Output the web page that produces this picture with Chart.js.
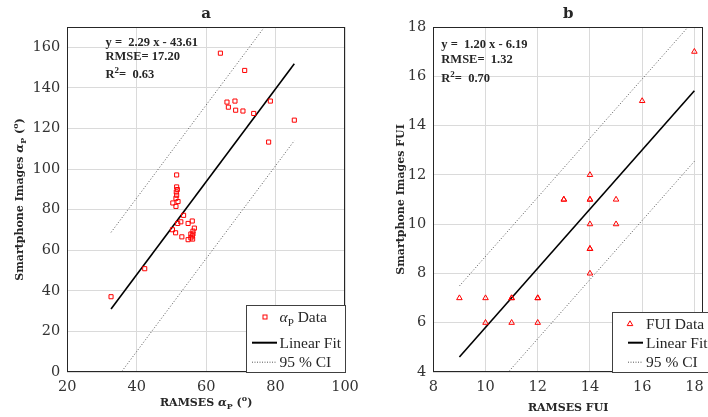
<!DOCTYPE html>
<html><head><meta charset="utf-8">
<script src="https://cdn.jsdelivr.net/npm/chart.js@4.4.1/dist/chart.umd.min.js"></script>
<style>
html,body{margin:0;padding:0;background:#fff;width:708px;height:417px;overflow:hidden;}
#wrapA{position:absolute;left:0;top:0;width:362px;height:417px;}
#wrapB{position:absolute;left:354px;top:0;width:354px;height:417px;}
canvas{display:block;}
</style></head><body>
<div id="wrapA"><canvas id="cA" width="362" height="417"></canvas></div>
<div id="wrapB"><canvas id="cB" width="354" height="417"></canvas></div>
<script>
// ---------- Panel a: alpha_P ----------
const ramsesAlpha = [32.6, 42.3, 51.5, 51.5, 51.7, 51.4, 51.5, 51.3, 50.4, 51.9, 51.3, 53.5, 52.7, 51.8, 56.0, 54.8,
  50.3, 51.2, 53.0, 56.6, 56.2, 55.6, 56.0, 55.6, 54.8, 56.1, 56.2,
  64.1, 71.1, 66.0, 68.3, 66.4, 68.5, 70.6, 73.7, 78.5, 85.4, 78.0];
const phoneAlpha = [37.1, 50.9, 97.1, 91.2, 89.9, 88.7, 87.1, 85.6, 83.3, 84.0, 81.6, 77.2, 74.0, 73.2, 74.4, 73.2,
  70.1, 68.6, 66.6, 70.9, 69.4, 68.0, 67.0, 66.1, 65.2, 65.5, 68.0,
  157.1, 148.6, 133.0, 133.5, 130.5, 129.0, 128.6, 127.4, 133.5, 124.1, 113.3];
const fitAX = [32.6, 85.4];
const fitAY = [31.0, 151.9];
const ciUpperAY = [68.8, 189.7];
const ciLowerAY = [-6.8, 114.0];
const xTicksA = [20, 40, 60, 80, 100];
const yTicksA = [0, 20, 40, 60, 80, 100, 120, 140, 160];
const statsA = ["y =  2.29 x - 43.61", "RMSE= 17.20", "=  0.63"];

// ---------- Panel b: FUI ----------
const ramsesFUI = [9, 10, 10, 11, 11, 11, 12, 12, 12, 13, 13, 14, 14, 14, 14, 14, 14, 14, 15, 15, 16, 18];
const phoneFUI  = [7, 7, 6, 7, 7, 6, 7, 7, 6, 11, 11, 12, 11, 11, 10, 9, 9, 8, 11, 10, 15, 17];
const fitBX = [9, 18];
const fitBY = [4.61, 15.41];
const ciUpperBY = [7.49, 18.29];
const ciLowerBY = [1.75, 12.55];
const xTicksB = [8, 10, 12, 14, 16, 18];
const yTicksB = [4, 6, 8, 10, 12, 14, 16, 18];
const statsB = ["y =  1.20 x - 6.19", "RMSE=  1.32", "=  0.70"];

const TXT = '#262626';
const GRID = '#dadada';
const RED = '#ff0000';

function pts(xs, ys){ return xs.map((x,i)=>({x:x, y:ys[i]})); }

function drawRich(ctx, segs, x, y, align){
  let w = 0;
  segs.forEach(s=>{ ctx.font = s.f; s.w = ctx.measureText(s.t).width; w += s.w; });
  let cx = align === 'center' ? x - w/2 : x;
  ctx.textAlign = 'left';
  ctx.textBaseline = 'alphabetic';
  segs.forEach(s=>{ ctx.font = s.f; ctx.fillText(s.t, cx, y + (s.dy||0)); cx += s.w; });
}

const panelPlugin = {
  id: 'panel',
  afterDraw(chart, args, o){
    const ctx = chart.ctx, ca = chart.chartArea;
    ctx.save();
    // axes box
    ctx.strokeStyle = TXT; ctx.lineWidth = 1;
    const L = Math.round(ca.left)+0.5, T = Math.round(ca.top)+0.5, R = Math.round(ca.right)-0.5, B = Math.round(ca.bottom)-0.5;
    ctx.strokeRect(L, T, R-L, B-T);
    ctx.fillStyle = TXT;
    // panel title
    ctx.font = 'bold 15px "DejaVu Serif"';
    ctx.textAlign = 'center'; ctx.textBaseline = 'alphabetic';
    ctx.fillText(o.title, (ca.left+ca.right)/2, o.titleY);
    // x title
    drawRich(ctx, o.xTitle, (ca.left+ca.right)/2, o.xTitleY, 'center');
    // y title
    ctx.save();
    ctx.translate(o.yTitleX, (ca.top+ca.bottom)/2);
    ctx.rotate(-Math.PI/2);
    drawRich(ctx, o.yTitle, 0, 0, 'center');
    ctx.restore();
    // stats annotation
    const sf = 'bold 12.5px "Liberation Serif"';
    ctx.font = sf; ctx.textAlign = 'left';
    ctx.fillText(o.stats[0], o.statsX, o.statsY[0]);
    ctx.fillText(o.stats[1], o.statsX, o.statsY[1]);
    drawRich(ctx, [{t:'R', f:sf}, {t:'2', f:'bold 9px "Liberation Serif"', dy:-5}, {t:o.stats[2], f:sf}], o.statsX, o.statsY[2], 'left');
    // legend box
    const lg = o.legend;
    ctx.fillStyle = '#ffffff';
    ctx.fillRect(lg.x, lg.y, lg.w, lg.h);
    ctx.strokeStyle = '#404040'; ctx.lineWidth = 1;
    ctx.strokeRect(lg.x+0.5, lg.y+0.5, lg.w, lg.h);
    // marker
    ctx.strokeStyle = RED; ctx.lineWidth = 1;
    if (lg.marker === 'rect') {
      ctx.strokeRect(lg.mx-2, lg.rows[0]-2, 4, 4);
    } else {
      ctx.beginPath();
      ctx.moveTo(lg.mx, lg.rows[0]-3.2);
      ctx.lineTo(lg.mx+2.8, lg.rows[0]+1.6);
      ctx.lineTo(lg.mx-2.8, lg.rows[0]+1.6);
      ctx.closePath(); ctx.stroke();
    }
    // fit line
    ctx.strokeStyle = '#000'; ctx.lineWidth = 2;
    ctx.beginPath(); ctx.moveTo(lg.l0, lg.rows[1]); ctx.lineTo(lg.l1, lg.rows[1]); ctx.stroke();
    // ci line
    ctx.strokeStyle = '#555'; ctx.lineWidth = 1; ctx.setLineDash([1,1.5]);
    ctx.beginPath(); ctx.moveTo(lg.l0, lg.rows[2]+0.5); ctx.lineTo(lg.l1, lg.rows[2]+0.5); ctx.stroke();
    ctx.setLineDash([]);
    ctx.fillStyle = TXT;
    const lf = '15.5px "Liberation Serif"';
    drawRich(ctx, lg.label0, lg.tx, lg.rows[0]+5, 'left');
    ctx.font = lf; ctx.textAlign='left'; ctx.textBaseline='alphabetic';
    ctx.fillText('Linear Fit', lg.tx, lg.rows[1]+5);
    ctx.fillText('95 % CI', lg.tx, lg.rows[2]+5);
    ctx.restore();
  }
};

function makeChart(id, cfg){
  const tickFont = {family:'DejaVu Serif', size:14.5};
  return new Chart(document.getElementById(id), {
    type: 'scatter',
    data: { datasets: [
      { data: pts(cfg.xs, cfg.ys), pointStyle: cfg.pstyle, pointRadius: cfg.pr, pointBorderColor: RED,
        pointBackgroundColor: 'rgba(0,0,0,0)', pointBorderWidth: 1, showLine: false },
      { data: pts(cfg.fitX, cfg.fitY), showLine: true, borderColor: '#000', borderWidth: 1.6, pointRadius: 0 },
      { data: pts(cfg.fitX, cfg.ciU), showLine: true, borderColor: '#555', borderWidth: 1, borderDash: [1,2], pointRadius: 0 },
      { data: pts(cfg.fitX, cfg.ciL), showLine: true, borderColor: '#555', borderWidth: 1, borderDash: [1,2], pointRadius: 0 }
    ]},
    options: {
      responsive: false, animation: false, devicePixelRatio: 1,
      layout: { padding: { top: 27, right: cfg.padR, left: 0, bottom: 0 } },
      plugins: { legend: {display:false}, tooltip: {enabled:false}, panel: cfg.panel },
      scales: {
        x: { type:'linear', min: cfg.xmin, max: cfg.xmax,
          afterBuildTicks: s => { s.ticks = cfg.xt.map(v=>({value:v})); },
          grid: { color: GRID, drawTicks: false },
          border: { display: false },
          ticks: { font: tickFont, color: '#333', padding: 7, maxRotation: 0, autoSkip: false },
          afterFit: s => { s.height = 45; s.paddingLeft = 0; s.paddingRight = 0; } },
        y: { type:'linear', min: cfg.ymin, max: cfg.ymax,
          afterBuildTicks: s => { s.ticks = cfg.yt.map(v=>({value:v})); },
          grid: { color: GRID, drawTicks: false },
          border: { display: false },
          ticks: { font: tickFont, color: '#333', padding: 7, autoSkip: false },
          afterFit: s => { s.width = cfg.yw; s.paddingTop = 0; s.paddingBottom = 0; } }
      }
    },
    plugins: [panelPlugin]
  });
}

const BF = 'bold 11px "DejaVu Serif"';
const BI = 'italic bold 11.5px "DejaVu Serif"';
const BS = 'bold 8px "DejaVu Serif"';

makeChart('cA', {
  xs: ramsesAlpha, ys: phoneAlpha, fitX: fitAX, fitY: fitAY, ciU: ciUpperAY, ciL: ciLowerAY,
  pstyle: 'rect', pr: 2.9, xmin: 20, xmax: 100, ymin: 0, ymax: 170, xt: xTicksA, yt: yTicksA,
  yw: 67.3, padR: 17,
  panel: {
    title: 'a', titleY: 17.5,
    xTitle: [{t:'RAMSES ', f:BF}, {t:'α', f:BI}, {t:'P', f:BS, dy:3}, {t:' (', f:BF}, {t:'o', f:BS, dy:-5}, {t:')', f:BF}],
    xTitleY: 405.5,
    yTitle: [{t:'Smartphone Images ', f:BF}, {t:'α', f:BI}, {t:'P', f:BS, dy:3}, {t:' (', f:BF}, {t:'o', f:BS, dy:-5}, {t:')', f:BF}],
    yTitleX: 23,
    stats: statsA, statsX: 105.5, statsY: [45.7, 60.3, 78.3],
    legend: { x: 246, y: 305, w: 99, h: 67, marker: 'rect', mx: 265, l0: 252, l1: 277, tx: 279.5,
      rows: [317, 342.7, 361.7],
      label0: [{t:'α', f:'italic 15.5px "Liberation Serif"'}, {t:'P', f:'11px "Liberation Serif"', dy:4}, {t:' Data', f:'15.5px "Liberation Serif"'}] }
  }
});

makeChart('cB', {
  xs: ramsesFUI, ys: phoneFUI, fitX: fitBX, fitY: fitBY, ciU: ciUpperBY, ciL: ciLowerBY,
  pstyle: 'triangle', pr: 3.2, xmin: 8, xmax: 18.33, ymin: 4, ymax: 18, xt: xTicksB, yt: yTicksB,
  yw: 79.3, padR: 1,
  panel: {
    title: 'b', titleY: 18.3,
    xTitle: [{t:'RAMSES FUI', f:BF}],
    xTitleY: 411,
    yTitle: [{t:'Smartphone Images FUI', f:BF}],
    yTitleX: 50,
    stats: statsB, statsX: 87.3, statsY: [47.7, 63.3, 81.5],
    legend: { x: 258, y: 312, w: 110, h: 60, marker: 'tri', mx: 276, l0: 274, l1: 289, tx: 292,
      rows: [324, 342.7, 361.7],
      label0: [{t:'FUI Data', f:'15.5px "Liberation Serif"'}] }
  }
});
</script>
</body></html>
